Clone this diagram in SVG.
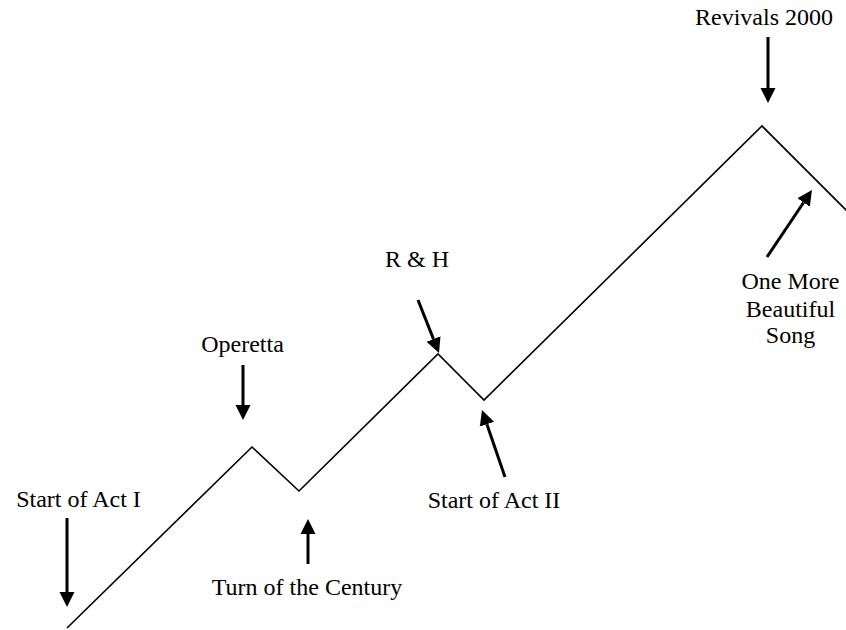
<svg xmlns="http://www.w3.org/2000/svg" width="846" height="630" viewBox="0 0 846 630">
<style>
text{font-family:"Liberation Serif","Times New Roman",serif;font-size:24px;fill:#000;text-anchor:middle}
.arr{stroke:#000;stroke-width:3;fill:none;marker-end:url(#ah)}
.path{stroke:#000;stroke-width:1.6;fill:none;stroke-linejoin:miter}
</style>
<defs>
<marker id="ah" markerUnits="userSpaceOnUse" markerWidth="16" markerHeight="16" refX="0" refY="7.5" orient="auto" viewBox="0 0 16 15">
<path d="M0,0 L15,7.5 L0,15 Z" fill="#000"/>
</marker>
</defs>
<rect width="846" height="630" fill="#fff"/>
<g id="timeline">
<polyline class="path" points="67,628 252,447 299,491 438,354 484,400 762,126 850,214"/>
</g>
<g id="connectors">
<line class="arr" x1="67" y1="518" x2="67" y2="592"/>
<line class="arr" x1="243" y1="365" x2="243" y2="405"/>
<line class="arr" x1="308" y1="564" x2="308" y2="534"/>
<line class="arr" x1="418" y1="300" x2="433.5" y2="339.1"/>
<line class="arr" x1="505" y1="477" x2="486.9" y2="424.2"/>
<line class="arr" x1="768" y1="37" x2="768" y2="88"/>
<line class="arr" x1="767" y1="257" x2="803.6" y2="202.5"/>
</g>
<g id="start-act-1"><text x="78.5" y="507">Start of Act I</text></g>
<g id="operetta"><text x="242.5" y="352">Operetta</text></g>
<g id="turn-of-century"><text x="307" y="595">Turn of the Century</text></g>
<g id="r-and-h"><text x="417" y="267">R &amp; H</text></g>
<g id="start-act-2"><text x="494" y="508">Start of Act II</text></g>
<g id="revivals-2000"><text x="764" y="25">Revivals 2000</text></g>
<g id="one-more-song"><text x="790.5" y="289">One More</text><text x="790.5" y="317">Beautiful</text><text x="790.5" y="343">Song</text></g>
</svg>
